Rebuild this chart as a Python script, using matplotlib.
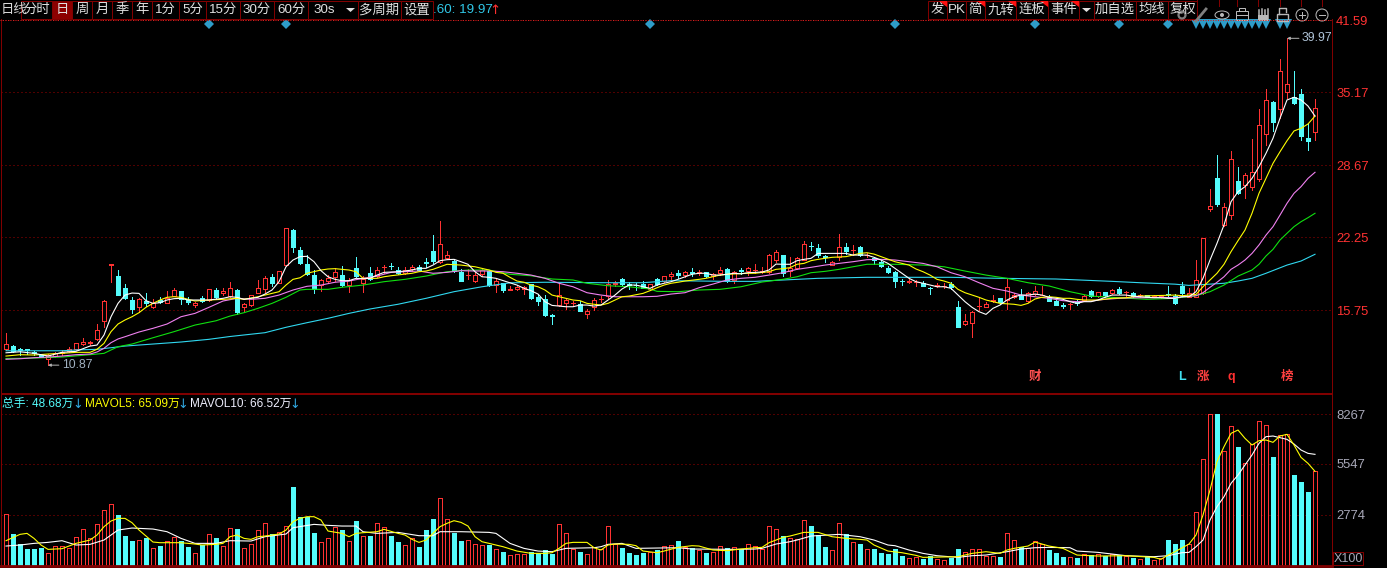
import numpy as np
import matplotlib
matplotlib.use("Agg")
import matplotlib.pyplot as plt
from matplotlib.patches import Rectangle, Polygon, Circle, Ellipse

plt.rcParams['font.family'] = ['Liberation Sans', 'Noto Sans CJK SC', 'DejaVu Sans']

opens = [
    12.28,12.57,12.31,12.28,12.04,11.80,11.42,11.68,11.92,12.13,
    12.30,12.75,12.81,13.20,14.82,19.82,18.80,17.74,16.67,16.02,
    16.58,16.07,16.67,16.43,17.02,17.47,16.67,16.22,16.85,16.64,
    17.56,17.30,17.02,17.56,16.07,16.22,17.32,17.68,18.71,18.21,
    19.78,22.90,21.12,19.87,18.89,17.98,18.39,18.74,18.89,18.03,
    19.49,18.15,19.05,18.80,19.58,19.70,19.31,19.05,19.43,19.58,
    20.02,21.00,20.02,20.41,20.11,19.13,18.86,18.39,19.01,19.22,
    18.03,18.15,17.59,17.68,17.65,18.07,16.94,16.76,15.31,16.20,
    16.43,16.38,16.29,15.45,16.02,16.76,17.02,18.07,18.51,18.09,
    18.05,18.09,17.62,18.51,18.36,18.80,19.05,18.89,19.19,19.10,
    19.16,18.80,19.05,19.43,18.45,19.30,19.25,19.33,19.19,19.19,
    20.23,20.67,19.25,19.49,20.23,21.50,21.30,20.58,19.78,20.52,
    21.36,21.08,21.36,20.65,20.38,20.08,19.52,19.16,18.36,18.30,
    18.27,18.21,17.76,17.94,17.90,18.09,16.02,14.51,14.65,16.14,
    16.07,16.60,16.82,16.67,16.91,17.02,16.58,17.23,17.10,16.91,
    16.58,16.20,16.30,16.49,16.67,17.44,17.00,17.35,17.32,17.65,
    17.35,17.27,17.08,17.09,16.99,16.97,17.20,17.02,17.92,16.96,
    16.96,17.27,24.77,27.51,23.37,24.21,27.26,26.91,26.70,27.41,
    31.42,34.30,33.65,35.22,34.77,35.01,31.09,31.60]
highs = [
    13.70,12.62,12.40,12.33,12.15,11.86,11.90,12.00,12.20,12.50,
    12.85,13.28,13.04,14.53,16.67,19.88,19.34,18.09,16.94,16.85,
    17.29,16.76,16.94,17.47,17.74,17.50,16.91,16.49,17.02,17.65,
    17.74,17.70,18.27,17.65,16.37,17.15,18.45,18.83,18.98,19.25,
    23.05,22.95,21.36,20.67,19.34,18.50,18.92,19.49,19.70,18.63,
    20.47,18.80,19.63,19.63,19.76,19.93,19.58,19.58,19.76,19.76,
    20.38,22.45,23.70,21.00,20.35,19.40,19.40,19.19,19.45,19.30,
    18.51,18.20,17.94,18.00,17.92,18.10,17.20,17.09,15.42,18.15,
    16.82,16.58,16.58,15.87,16.85,17.02,18.45,18.36,18.65,18.25,
    18.21,18.36,18.10,18.65,18.83,19.16,19.34,19.25,19.49,19.34,
    19.20,19.05,19.61,19.50,19.25,19.49,19.63,19.87,19.63,20.76,
    21.12,20.70,20.50,20.52,21.95,21.83,21.65,20.67,20.17,22.54,
    21.72,21.57,21.47,20.88,20.47,20.20,19.70,19.28,18.51,18.51,
    18.45,18.36,17.85,18.15,18.21,18.25,16.58,15.39,15.72,16.82,
    16.47,17.11,16.85,18.51,17.32,17.62,17.38,17.92,17.92,17.14,
    16.73,16.37,16.40,16.67,17.10,17.56,17.40,17.40,17.65,17.83,
    17.50,17.38,17.20,17.15,17.11,17.11,17.92,17.20,18.27,17.71,
    20.23,22.20,26.52,29.58,25.30,29.93,28.51,27.98,31.03,33.65,
    35.46,34.35,38.13,39.97,37.03,35.46,32.40,34.56]
lows = [
    12.20,12.04,11.77,11.87,11.74,11.57,10.87,11.60,11.80,12.05,
    12.25,12.66,12.66,13.11,14.29,18.27,17.10,16.80,15.54,15.60,
    16.13,16.00,16.40,16.40,17.00,16.34,16.31,16.05,16.50,16.60,
    16.88,17.10,16.90,15.40,15.69,16.15,17.30,17.41,17.91,18.15,
    19.70,20.97,19.90,18.90,17.32,17.47,18.16,18.39,17.91,17.41,
    18.75,17.41,18.45,18.75,19.05,19.40,18.96,18.96,19.28,19.28,
    19.58,19.93,19.95,20.29,19.20,18.33,18.51,18.27,18.83,17.95,
    17.41,17.41,17.58,17.56,17.20,16.80,16.22,15.27,14.53,16.15,
    15.87,16.16,15.68,15.09,15.78,16.49,16.85,17.91,17.91,17.62,
    17.56,17.70,17.60,18.03,18.30,18.45,18.60,18.74,18.80,18.92,
    18.75,18.56,18.89,18.30,18.15,18.96,18.89,19.10,19.05,19.10,
    20.08,18.80,18.80,19.40,20.20,21.12,20.52,20.08,19.75,20.23,
    20.76,20.67,20.60,20.47,19.87,19.65,19.05,17.85,17.98,18.15,
    17.94,17.90,17.20,17.80,17.70,17.65,14.25,14.42,13.40,15.78,
    16.02,16.52,16.31,15.89,16.85,16.75,16.50,17.15,17.10,16.54,
    16.20,15.98,15.87,16.25,16.60,16.95,16.95,16.94,17.20,17.20,
    17.02,16.95,16.95,16.90,16.90,16.82,17.05,16.31,16.96,16.90,
    16.90,17.20,24.59,25.04,23.30,23.88,26.10,25.78,26.50,27.30,
    30.50,31.72,32.87,34.68,34.10,30.91,30.02,30.91]
closes = [
    12.75,12.15,12.22,12.22,11.95,11.62,11.77,11.92,12.06,12.33,
    12.81,12.93,12.93,13.97,16.58,19.88,17.11,16.85,15.87,16.76,
    16.43,16.37,16.49,16.87,17.56,16.73,16.46,16.40,16.58,17.62,
    16.91,17.45,17.74,15.63,16.31,17.09,17.71,18.60,18.18,19.22,
    23.05,21.41,19.96,18.98,17.65,18.42,18.63,19.13,18.03,18.42,
    18.80,18.54,18.56,19.31,19.63,19.67,19.05,19.34,19.63,19.34,
    19.98,20.11,21.63,20.65,19.28,18.39,18.89,18.87,19.31,18.00,
    18.33,17.56,17.62,17.80,17.80,16.85,16.58,15.31,15.22,17.11,
    16.64,16.40,15.72,15.72,16.64,16.79,18.07,18.18,18.09,18.05,
    18.02,17.77,18.07,18.09,18.80,18.98,18.89,19.13,19.10,19.16,
    18.80,18.96,19.34,18.33,19.13,19.27,19.49,19.36,19.22,20.67,
    20.91,19.05,19.54,20.38,21.65,21.47,20.67,20.47,20.05,21.36,
    21.03,21.10,20.67,20.68,20.23,19.72,19.16,18.39,18.33,18.33,
    18.30,17.94,17.73,17.97,17.93,17.80,14.29,14.77,15.57,16.17,
    16.29,16.63,16.52,17.80,17.09,16.79,17.27,17.44,17.13,16.58,
    16.22,16.17,16.33,16.37,17.02,17.00,17.35,17.09,17.56,17.27,
    17.38,17.00,17.11,16.94,17.02,17.00,17.17,16.43,17.27,17.32,
    18.42,22.16,25.01,25.22,24.92,29.20,26.17,27.77,28.04,32.22,
    34.45,32.54,37.03,35.87,34.18,31.30,30.85,33.74]
volumes = [
    2816,1726,1163,909,909,981,690,1072,1090,945,
    1563,1999,1508,2271,3034,3361,2762,1617,1345,1399,
    1526,963,1072,1345,1563,1345,1036,690,1127,1726,
    1508,1072,2053,1999,963,1181,1944,2308,1726,1835,
    2162,4288,2635,2671,1781,1290,1508,2108,1944,1345,
    2435,1617,1617,2326,2108,1617,1290,1127,1508,1018,
    1944,2544,3689,2544,1781,1345,1399,1181,1127,1127,
    909,745,563,636,654,745,690,854,636,2271,
    1781,909,745,636,1018,909,2162,1181,963,690,
    581,690,745,854,1072,1127,1345,1036,963,854,
    690,745,1072,963,1018,909,1181,1072,890,2162,
    1999,1617,1508,1454,2489,2162,1672,1018,854,2326,
    1726,1290,1181,909,909,690,636,909,527,418,
    472,363,527,345,309,400,909,727,890,890,
    527,527,472,1762,1381,1018,945,1326,1163,854,
    690,472,472,418,636,581,636,509,636,563,
    509,418,363,454,309,418,1399,1181,1399,1163,
    2907,5796,8267,8267,6250,7595,6468,5578,6614,7868,
    7650,5923,7104,7177,4942,4561,4016,5142]

# moving averages as candle number: value
ma5 = {0:11.97,2:12.06,4:11.92,6:11.68,8:12.01,10:12.10,12:12.57,13:12.66,14:13.55,15:15.18,16:16.37,17:17.11,18:17.29,19:17.26,
       20:16.61,21:16.37,22:16.43,23:16.67,24:16.79,25:16.82,26:16.67,27:16.67,29:16.67,31:16.82,32:16.96,33:16.91,34:16.73,35:16.82,
       36:16.91,37:17.20,38:17.56,39:18.30,40:19.63,41:20.23,42:20.53,43:20.56,44:20.08,45:19.28,46:18.74,47:18.51,48:18.39,49:18.39,
       50:18.60,51:18.56,52:18.60,53:18.89,54:19.13,55:19.16,56:19.19,57:19.25,58:19.34,59:19.49,60:19.49,61:19.78,62:20.17,63:20.26,
       64:20.29,65:20.08,66:19.85,67:19.19,68:18.74,69:18.69,70:18.60,71:18.40,72:18.21,73:18.00,74:17.71,75:17.50,76:17.20,77:16.52,
       78:16.19,79:16.13,80:16.07,81:16.07,82:16.22,83:16.22,84:16.13,85:16.22,86:16.67,87:17.11,88:17.65,89:18.00,90:18.00,91:17.85,
       92:17.71,93:18.00,94:18.16,95:18.30,96:18.51,97:18.74,98:18.96,99:19.05,100:19.05,101:18.89,102:18.89,103:18.96,104:19.05,
       105:19.00,106:19.10,107:19.13,108:19.16,109:19.34,110:19.87,111:19.85,112:19.85,113:20.17,114:20.29,115:20.38,116:20.82,
       117:20.82,118:20.82,119:20.82,120:20.82,121:20.67,122:20.67,123:20.67,124:20.47,125:20.23,126:19.93,127:19.49,128:19.05,
       129:18.60,130:18.30,131:18.16,132:18.00,133:17.85,134:17.85,135:17.71,136:17.11,137:16.52,138:16.02,139:15.63,140:15.39,
       141:15.93,142:16.22,143:16.67,144:16.96,145:17.11,146:17.11,147:17.20,148:17.11,149:16.91,150:16.82,151:16.73,152:16.52,
       153:16.37,154:16.52,155:16.52,156:16.67,157:16.91,158:17.11,159:17.11,160:17.11,161:17.02,162:16.96,163:16.91,164:16.87,
       165:16.87,166:16.82,167:16.82,168:16.96,169:16.96,170:17.41,171:18.60,172:20.23,173:21.72,174:23.35,175:25.42,176:26.31,
       177:26.76,178:27.50,179:28.54,180:29.73,181:31.07,182:32.85,183:34.48,184:34.72,185:34.48,186:33.94,187:33.05}
ma10 = {0:11.68,2:11.80,4:11.77,6:11.86,8:11.92,10:12.01,12:12.01,13:12.28,14:12.81,15:13.85,16:14.53,17:14.89,18:15.18,19:15.54,
        20:16.02,21:16.37,22:16.67,23:16.91,24:16.96,25:16.91,26:16.73,27:16.58,29:16.67,31:16.73,33:16.82,34:16.73,36:16.96,37:17.11,
        38:17.26,39:17.41,40:18.00,41:18.51,42:18.65,43:19.05,44:19.19,45:19.34,46:19.43,47:19.46,49:19.34,50:19.19,51:18.60,53:18.60,
        54:18.74,55:18.83,57:18.98,58:19.05,59:19.19,60:19.25,61:19.40,62:19.63,63:19.85,65:19.78,67:19.63,69:19.34,70:19.13,71:19.05,
        72:18.69,73:18.36,74:18.25,75:18.00,76:17.85,77:17.56,78:17.11,79:16.96,80:16.82,81:16.67,82:16.61,83:16.37,84:16.29,85:16.22,
        86:16.37,87:16.67,88:16.96,89:17.02,90:17.14,91:17.26,92:17.50,93:17.76,94:18.00,95:18.16,96:18.25,97:18.36,99:18.51,100:18.60,
        101:18.74,102:18.89,103:18.96,106:19.05,107:19.05,109:19.19,110:19.40,111:19.46,112:19.55,113:19.85,114:19.93,115:20.17,
        116:20.29,117:20.38,118:20.47,120:20.53,121:20.67,122:20.82,123:20.88,124:20.76,125:20.53,126:20.29,127:20.08,128:19.93,
        129:19.78,130:19.43,131:19.19,132:18.89,133:18.51,134:18.36,135:18.16,136:17.62,137:17.32,138:17.11,139:16.91,140:16.67,
        141:16.52,142:16.37,144:16.29,145:16.19,146:16.37,147:16.76,148:16.91,149:16.96,150:16.91,151:16.82,152:16.82,153:16.73,
        154:16.67,156:16.67,158:16.82,160:16.87,161:16.96,162:17.02,167:17.11,168:17.05,170:17.17,171:17.85,172:18.45,173:19.05,
        174:19.85,175:20.97,176:21.95,177:22.90,178:24.39,179:26.17,180:27.50,181:28.84,182:29.87,183:30.85,184:31.72,185:31.96,
        186:32.34,187:33.05}
ma20 = {0:11.39,2:11.44,4:11.53,6:11.59,8:11.68,10:11.80,12:11.86,13:12.04,14:12.37,15:12.87,16:13.20,17:13.40,19:13.82,21:14.15,
        23:14.53,25:15.18,27:15.48,29:16.02,31:16.58,33:16.82,35:16.73,37:16.82,39:17.11,41:17.56,43:17.89,45:18.00,47:18.25,49:18.36,
        51:18.60,53:18.80,55:19.13,57:19.19,59:19.25,61:19.05,63:19.13,65:19.28,67:19.25,69:19.25,71:19.19,73:19.05,75:18.89,77:18.60,
        79:18.16,81:17.85,83:17.32,85:17.11,87:16.96,89:16.96,91:16.96,93:17.00,95:17.20,97:17.32,99:17.76,101:18.09,103:18.45,
        105:18.60,107:18.69,109:18.89,111:19.10,113:19.40,115:19.58,117:19.78,119:19.93,121:20.08,123:20.26,125:20.29,127:20.23,
        129:20.08,131:19.93,133:19.63,135:19.10,137:18.74,139:18.21,141:17.71,143:17.47,145:17.11,147:16.96,149:16.82,151:16.61,
        153:16.52,155:16.58,157:16.73,159:16.82,161:16.87,163:16.87,165:16.91,167:16.87,168:16.96,170:17.05,171:17.32,172:17.80,
        173:18.25,174:18.74,175:19.40,176:19.78,177:20.23,178:20.82,179:21.57,180:22.45,181:23.20,182:24.23,183:25.28,184:26.17,
        185:26.76,186:27.50,187:28.04}
ma30 = {0:11.46,2:11.48,4:11.50,8:11.59,12:11.80,14:11.92,15:12.22,16:12.51,18:12.75,21:13.31,24:13.85,27:14.44,30:14.82,32:15.24,
        34:15.54,36:15.93,38:16.37,40:16.91,42:17.56,43:17.62,46:17.62,48:17.80,51:18.00,54:18.30,57:18.51,60:18.80,63:19.19,66:19.34,
        69:19.34,72:18.96,75:18.83,78:18.54,81:18.45,83:18.16,86:17.94,89:17.85,92:17.65,93:17.44,96:17.41,99:17.56,102:17.62,105:17.85,
        108:18.27,111:18.51,113:18.74,115:19.10,117:19.22,119:19.40,121:19.63,123:19.85,127:19.85,131:19.78,134:19.63,137:19.25,
        140:18.89,143:18.60,146:18.21,149:17.92,152:17.41,155:17.02,159:16.87,163:16.73,167:16.82,168:16.91,170:17.05,172:17.41,
        174:18.00,176:18.80,178:19.34,179:19.85,180:20.59,181:21.18,182:22.01,183:22.61,184:23.20,185:23.64,186:24.00,187:24.39}
ma60 = {0:12.15,8:12.15,10:12.22,13:12.28,15:12.42,17:12.57,21:12.75,25:12.93,29:13.17,32:13.42,37:13.76,40:14.24,43:14.65,46:15.04,
        49:15.48,52:15.87,56:16.29,60:16.82,64:17.41,68:17.85,72:18.20,77:18.25,85:18.21,91:18.21,95:18.39,99:18.36,103:18.33,107:18.33,
        113:18.51,116:18.60,123:18.69,135:18.69,142:18.60,150:18.54,158:18.33,162:18.21,167:18.08,169:17.97,174:18.16,176:18.36,
        178:18.60,180:19.05,183:19.78,185:20.14,187:20.74}
mavol5 = {0:1363,2:1708,3:1762,4:1490,5:1127,6:890,8:927,10:1217,12:1399,13:1672,14:2126,15:2435,16:2580,17:2580,18:2344,19:1944,
          21:1290,22:1254,25:1254,27:1181,28:1127,30:1163,31:1217,32:1581,33:1672,34:1490,35:1435,36:1581,37:1617,39:1726,40:1944,
          41:2398,42:2580,43:2671,44:2671,45:2489,46:1890,48:1762,49:1581,50:1762,51:1799,53:1853,54:1981,56:1762,57:1672,58:1435,
          59:1272,60:1399,61:1762,62:2126,63:2308,64:2453,65:2362,66:2162,67:1581,68:1308,69:1217,71:1036,73:799,75:672,77:672,78:709,
          79:945,80:1217,81:1272,83:1272,84:981,85:854,86:1127,87:1181,89:1163,90:1090,91:799,93:709,94:799,96:999,98:1090,99:1072,
          101:854,103:818,105:909,107:981,108:999,109:1254,111:1544,112:1617,114:1817,116:1817,118:1581,120:1490,122:1435,123:1399,
          124:1127,126:799,128:709,130:563,131:454,136:491,138:672,140:763,142:672,143:854,144:945,146:1072,147:1290,149:1072,151:945,
          153:581,156:527,160:545,164:454,165:345,166:581,167:763,169:1181,170:1672,171:2762,172:4125,173:5669,174:6487,175:7213,
          176:7395,177:6941,178:6578,179:6814,180:6850,181:6723,182:7068,183:7159,184:6578,185:5905,186:5578,187:5142}
mavol10 = {0:1072,2:1127,4:1217,6:1272,8:1363,10:1127,12:1163,14:1399,16:1944,18:2053,21:1999,23:1853,25:1490,27:1217,30:1217,32:1363,
           35:1345,37:1581,40:1726,41:2071,44:2253,46:2199,48:2162,50:2162,51:1853,53:1762,56:1817,59:1635,61:1635,62:1853,64:1853,
           65:1853,69:1817,70:1762,72:1217,74:945,76:799,78:763,80:945,84:981,85:1036,86:1163,88:1217,90:945,96:981,98:909,104:890,
           107:909,108:945,110:1181,112:1308,113:1399,115:1617,119:1708,122:1581,124:1399,126:1127,127:1090,129:854,130:763,131:672,
           133:545,136:454,138:545,140:581,143:763,145:909,147:981,149:999,152:981,153:799,156:727,160:545,164:491,166:545,168:709,
           169:727,170:1036,171:1399,172:2489,173:3216,174:3761,175:4488,176:4942,177:5487,178:6032,179:6668,180:7032,181:7068,
           182:6977,183:6886,184:6632,185:6305,186:6123,187:6069}

price_ticks = [41.59, 35.17, 28.67, 22.25, 15.75]
volume_ticks = [8267, 5547, 2774]
signal_at = [29, 40, 92, 127, 147, 159, 166]
signal2_at = [170,171,172,173,174,175,176,177,178,179,180,182,183]
event_at = [147, 168, 171, 175, 183]
event_text = ['财', 'L', '涨', 'q', '榜']
event_color = ['#ff5050', '#40e0f0', '#ff4040', '#ff3030', '#ff4040']

left_tabs = [('分时',21,52),('日',52,72),('周',72,92),('月',92,112),('季',112,132),('年',132,152),
             ('1分',152,179),('5分',179,206),('15分',206,240),('30分',240,274),('60分',274,308),
             ('多周期',358,401),('设置',401,433)]
right_tabs = [('发',928,947),('PK',947,966),('简',966,985),('九转',985,1016),('连板',1016,1048),
              ('事件',1048,1079),('加自选',1094,1136),('均线',1136,1168),('复权',1168,1197)]

RED = '#ff3232'
CYAN = '#54fcfc'
DARK = '#800000'
W, H = 1387, 568
PX = 0.72
BODY = 4.6/7

o = np.array(opens); h = np.array(highs); l = np.array(lows); c = np.array(closes); v = np.array(volumes)
x = np.arange(len(c))
up = c >= o

fig = plt.figure(figsize=(W/100, H/100), dpi=100, facecolor='black')


def panel(top, bottom):
    ax = fig.add_axes([1/W, 1-bottom/H, 1331/W, (bottom-top)/H], facecolor='black')
    ax.set_xlim(-5/7, 1326/7)
    ax.set_xticks([])
    ax.yaxis.tick_right()
    for s in ('left', 'right', 'bottom', 'top'):
        ax.spines[s].set_color(DARK)
        ax.spines[s].set_linewidth(PX)
    ax.grid(axis='y', color='#a00000', linestyle=(0, (1, 3)), linewidth=PX, zorder=0)
    ax.set_axisbelow(True)
    return ax


# candles
ax = panel(19, 393)
ax.set_ylim(8.39, 41.69)
ax.set_yticks(price_ticks, [f'{t:.2f}' for t in price_ticks], color=RED, fontsize=9.4)
ax.tick_params(axis='y', length=0, pad=3)
ax.spines['top'].set_visible(False)
ax.vlines(x[up], l[up], h[up], color=RED, linewidth=PX, antialiased=False, zorder=2)
ax.vlines(x[~up], l[~up], h[~up], color=CYAN, linewidth=PX, antialiased=False, zorder=2)
ax.bar(x[up], (c-o)[up], bottom=o[up], width=BODY, facecolor='black', edgecolor=RED,
       linewidth=PX, antialiased=False, zorder=2.1)
ax.bar(x[~up], (o-c)[~up], bottom=c[~up], width=BODY, facecolor=CYAN, edgecolor=CYAN,
       linewidth=PX, antialiased=False, zorder=2.1)
for vals, col in [(ma60, '#30d8f0'), (ma30, '#10e010'), (ma20, '#f080f0'), (ma10, '#ffff00'), (ma5, '#ffffff')]:
    ax.plot(list(vals.keys()), list(vals.values()), color=col, linewidth=0.8, zorder=3)

# signal row and event letters
y_sig = 41.59 - 0.36
ax.plot(signal_at, [y_sig]*len(signal_at), 'D', color='#2e9cc8', markersize=4.8, markeredgewidth=0, clip_on=False, zorder=4)
ax.plot(signal2_at, [y_sig+0.02]*len(signal2_at), 'v', color='#2e9cc8', markersize=7, markeredgewidth=0, clip_on=False, zorder=4)
for i, t, col in zip(event_at, event_text, event_color):
    ax.text(i, 9.8, t, color=col, fontsize=9, ha='center', va='center', fontweight='bold', zorder=4)

# high and low notes
hi = int(np.argmax(h)); lo = int(np.argmin(l))
ax.annotate(f'{h[hi]:.2f}', xy=(hi, h[hi]), xytext=(hi+2.1, h[hi]), color='#b0c4d8', fontsize=8.8,
            va='center', arrowprops=dict(arrowstyle='-|>', color='#b0b0b0', lw=PX, mutation_scale=4, shrinkA=0, shrinkB=0))
ax.annotate(f'{l[lo]:.2f}', xy=(lo, l[lo]), xytext=(lo+1.95, l[lo]), color='#a0b0c0', fontsize=8.8,
            va='center', arrowprops=dict(arrowstyle='-|>', color='#b0b0b0', lw=PX, mutation_scale=4, shrinkA=0, shrinkB=0))

# volume
vx = panel(394, 566)
vx.set_ylim(-16, 9358)
vx.set_yticks(volume_ticks, [str(t) for t in volume_ticks], color='#a8a8b8', fontsize=9.4)
vx.tick_params(axis='y', length=0, pad=3)
vx.spines['bottom'].set_linewidth(2)
vx.bar(x[up], v[up], width=BODY, facecolor='black', edgecolor=RED, linewidth=PX, antialiased=False, zorder=2)
vx.bar(x[~up], v[~up], width=BODY, facecolor=CYAN, edgecolor=CYAN, linewidth=PX, antialiased=False, zorder=2)
vx.plot(list(mavol10.keys()), list(mavol10.values()), color='#ffffff', linewidth=0.8, zorder=3)
vx.plot(list(mavol5.keys()), list(mavol5.values()), color='#ffff00', linewidth=0.8, zorder=3)

# toolbar and captions, placed in screen pixels
ui = fig.add_axes([0, 0, 1, 1], facecolor='none')
ui.set_xlim(0, W); ui.set_ylim(H, 0); ui.axis('off')
ui.plot([0, 1332], [19.5, 19.5], color='#d02020', linestyle=(0, (1, 1.5)), linewidth=PX)
ui.text(1, 10, '日线', color='#d8d8d8', fontsize=9.6, va='center')
for name, a, b in left_tabs + right_tabs:
    sel = name == '日'
    ui.add_patch(Rectangle((a, 0.5), b-a, 18.5, facecolor='#8c0000' if sel else 'black', edgecolor=DARK, linewidth=PX))
    ui.text((a+b)/2, 10, name, color='#e0e0e0', fontsize=9.6, ha='center', va='center')
ui.add_patch(Rectangle((308, 0.5), 50, 18.5, facecolor='black', edgecolor=DARK, linewidth=PX))
ui.text(324, 10, '30s', color='#e0e0e0', fontsize=9.6, ha='center', va='center')
for b in [947, 985, 1016, 1048, 1079]:
    ui.add_patch(Polygon([[b-8, 0.5], [b, 0.5], [b, 7]], color='#ff1010', linewidth=0))
ui.add_patch(Polygon([[346, 8], [355, 8], [350.5, 12]], color='#e0e0e0', linewidth=0))
ui.add_patch(Rectangle((1079, 0.5), 15, 18.5, facecolor='black', edgecolor=DARK, linewidth=PX))
ui.add_patch(Polygon([[1082, 8], [1091, 8], [1086.5, 12]], color='#e0e0e0', linewidth=0))
ui.text(433, 10, '.60: 19.97', color='#30c8e8', fontsize=9.6, va='center')
ui.text(489, 10, '↑', color='#ff3030', fontsize=9.6, va='center', family='DejaVu Sans')
for a in [1197, 1219, 1237, 1258, 1280, 1301, 1322]:
    ui.plot([a, a], [0, 6], color=DARK, linewidth=PX)

# tool icons
ic = '#b8b8b8'
ui.add_patch(Circle((1182, 15), 3.5, facecolor='black', edgecolor='#808080', linewidth=1.6))
ui.plot([1196, 1206], [21, 9], color='#808080', linewidth=2)
ui.add_patch(Ellipse((1222, 15), 14, 8, fill=False, edgecolor=ic, linewidth=PX))
ui.add_patch(Circle((1222, 15), 2, facecolor=ic, linewidth=0))
ui.add_patch(Rectangle((1236, 11), 12, 9, fill=False, edgecolor=ic, linewidth=PX))
ui.add_patch(Rectangle((1239, 8), 6, 3, fill=False, edgecolor=ic, linewidth=PX))
ui.plot([1236, 1248], [15, 15], color=ic, linewidth=PX)
for k in range(4):
    ui.plot([1259+3*k, 1259+3*k], [10-k % 2, 19], color=ic, linewidth=1.1)
ui.add_patch(Rectangle((1258, 15), 10, 6, facecolor=ic, linewidth=0))
ui.add_patch(Rectangle((1277, 14), 11, 7, fill=False, edgecolor=ic, linewidth=1))
ui.plot([1279, 1279, 1286, 1286], [14, 8, 8, 12], color=ic, linewidth=1)
for cx in (1302, 1322):
    ui.add_patch(Circle((cx, 15), 6, fill=False, edgecolor=ic, linewidth=PX))
    ui.plot([cx-3, cx+3], [15, 15], color=ic, linewidth=PX)
ui.plot([1302, 1302], [12, 18], color=ic, linewidth=PX)

# volume caption
for px, txt, col in [(2, '总手: 48.68万', CYAN), (85, 'MAVOL5: 65.09万', '#ffff00'), (190, 'MAVOL10: 66.52万', '#f0f0ff')]:
    ui.text(px, 404, txt, color=col, fontsize=8.5, va='center')
for px in (78, 183, 295):
    ui.text(px, 404, '↓', color='#30a8e0', fontsize=9.2, va='center', ha='center', family='DejaVu Sans')

# X100 box
ui.add_patch(Rectangle((1333, 552), 30, 13, facecolor='black', edgecolor=DARK, linewidth=PX))
ui.text(1348, 558.5, 'X100', color='#a8a8b8', fontsize=9.0, ha='center', va='center')

fig.savefig('out.png', dpi=100, facecolor='black')
